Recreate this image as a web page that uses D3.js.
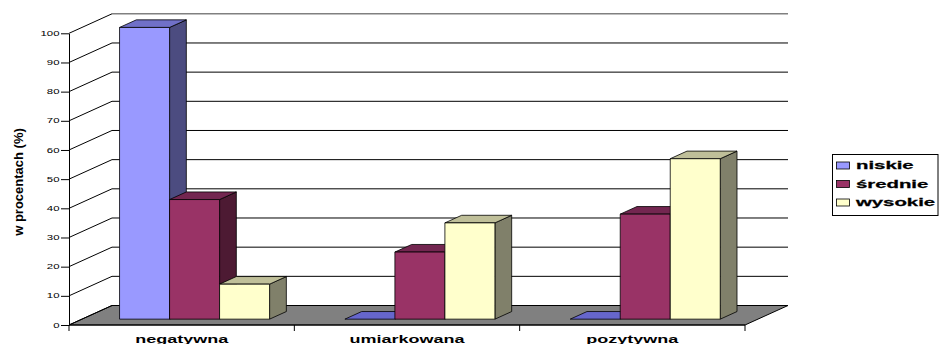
<!DOCTYPE html>
<html>
<head>
<meta charset="utf-8">
<script src="https://cdn.jsdelivr.net/npm/d3@7"></script>
<style>
  html, body { margin: 0; padding: 0; background: #fff; }
  svg { display: block; }
  text { font-family: "Liberation Sans", Arial, sans-serif; }
</style>
</head>
<body>
<svg id="chart" width="939" height="344"></svg>
<script>
// Attitude groups and share of each level (percent)
const categories = ["negatywna", "umiarkowana", "pozytywna"];
const seriesNames = ["niskie", "średnie", "wysokie"];
const niskie = [100, 0, 0];
const srednie = [41, 23, 36];
const wysokie = [12, 33, 55];
const yTicks = [0, 10, 20, 30, 40, 50, 60, 70, 80, 90, 100];
const yTitle = "w procentach (%)";

const seriesValues = [niskie, srednie, wysokie];
const palette = {
  front: ["#9999FF", "#993366", "#FFFFCC"],
  top:   ["#7070C8", "#732650", "#BFBF99"],
  side:  ["#4C4C80", "#4D1A33", "#80806A"]
};

const svg = d3.select("#chart");

// Front plane of the plot box and depth vector of the 3-D floor
const left = 69, right = 745, floorY = 325, topY = 33.3;
const depth = { dx: 43, dy: -19.5 };
const zFront = 0.3, zBack = 0.69;   // bar depth inside the floor

const x = d3.scaleBand().domain(categories).range([left, right]).padding(0);
const xs = d3.scaleBand().domain(seriesNames).range([0, x.bandwidth()])
  .paddingInner(0).paddingOuter(0.753);
const y = d3.scaleLinear().domain([0, 100]).range([floorY, topY]);

// project a point (px on the front plane, value, depth fraction)
const P = (px, v, z) => [px + z * depth.dx, y(v) + z * depth.dy];
const poly = pts => "M" + pts.map(p => p.join(",")).join("L") + "Z";

// Floor slab
svg.append("path")
  .attr("d", poly([P(left, 0, 0), P(right, 0, 0), P(right, 0, 1), P(left, 0, 1)]))
  .attr("fill", "#808080").attr("stroke", "#000").attr("stroke-width", 1);

// Back wall gridlines
const grid = svg.append("g");
yTicks.filter(t => t > 0).forEach(t => {
  const a = P(left, t, 1), b = P(right, t, 1);
  grid.append("line")
    .attr("x1", a[0]).attr("y1", a[1]).attr("x2", b[0]).attr("y2", b[1])
    .attr("stroke", t === 100 ? "#808080" : "#000")
    .attr("stroke-width", t === 100 ? 1.6 : 1);
});
// Side wall gridlines
yTicks.forEach(t => {
  const a = P(left, t, 0), b = P(left, t, 1);
  grid.append("line")
    .attr("x1", a[0]).attr("y1", a[1]).attr("x2", b[0]).attr("y2", b[1])
    .attr("stroke", "#000").attr("stroke-width", 1);
});

// Bars: side, top and front face of each box
const bars = svg.append("g").attr("stroke", "#000").attr("stroke-width", 0.8)
  .attr("stroke-linejoin", "round");
categories.forEach((cat, ci) => {
  seriesNames.forEach((s, si) => {
    const v = seriesValues[si][ci];
    const x0 = x(cat) + xs(s), x1 = x0 + xs.bandwidth();
    if (v > 0) {
      bars.append("path")
        .attr("d", poly([P(x1, 0, zFront), P(x1, 0, zBack), P(x1, v, zBack), P(x1, v, zFront)]))
        .attr("fill", palette.side[si]);
    }
    bars.append("path")
      .attr("d", poly([P(x0, v, zFront), P(x1, v, zFront), P(x1, v, zBack), P(x0, v, zBack)]))
      .attr("fill", v > 0 ? palette.top[si] : "#6666CC");
    if (v > 0) {
      bars.append("path")
        .attr("d", poly([P(x0, 0, zFront), P(x1, 0, zFront), P(x1, v, zFront), P(x0, v, zFront)]))
        .attr("fill", palette.front[si]);
    }
  });
});

// Value axis
const tickStretch = 1.75;
const yAxis = svg.append("g")
  .attr("transform", `translate(${left},0)`)
  .call(d3.axisLeft(y).tickValues(yTicks).tickSize(8).tickPadding(1).tickSizeOuter(0));
yAxis.select(".domain").attr("stroke", "#000");
yAxis.selectAll(".tick line").attr("stroke", "#000");
yAxis.selectAll(".tick text")
  .attr("font-size", 6.5).attr("fill", "#000")
  .attr("font-family", "'Liberation Sans', Arial, sans-serif")
  .attr("transform", `scale(${tickStretch},1)`)
  .attr("x", -9.5 / tickStretch);

// Category axis along the front edge of the floor
const xAxis = svg.append("g");
xAxis.append("line")
  .attr("x1", left).attr("x2", right).attr("y1", floorY).attr("y2", floorY)
  .attr("stroke", "#000");
[...categories.map(c => x(c)), right].forEach(px => {
  xAxis.append("line")
    .attr("x1", px).attr("x2", px).attr("y1", floorY).attr("y2", floorY + 6)
    .attr("stroke", "#000");
});
categories.forEach(c => {
  xAxis.append("text")
    .attr("transform", `translate(${x(c) + x.bandwidth() / 2},343) scale(1.8,1)`)
    .attr("text-anchor", "middle")
    .attr("font-size", 10).attr("font-weight", "bold")
    .text(c);
});

// Axis title
svg.append("text")
  .attr("transform", "translate(23,182) rotate(-90)")
  .attr("text-anchor", "middle")
  .attr("font-size", 13).attr("font-weight", "bold")
  .text(yTitle);

// Legend
const legend = svg.append("g");
legend.append("rect")
  .attr("x", 832.5).attr("y", 154.5).attr("width", 105.5).attr("height", 61)
  .attr("fill", "#fff").attr("stroke", "#000");
seriesNames.forEach((s, i) => {
  const cy = 165.5 + i * 18.5;
  legend.append("rect")
    .attr("x", 836.5).attr("y", cy - 3.5).attr("width", 13).attr("height", 7)
    .attr("fill", palette.front[i]).attr("stroke", "#000").attr("stroke-width", 0.8);
  legend.append("text")
    .attr("transform", `translate(856,${cy + 3.5}) scale(1.85,1)`)
    .attr("font-size", 11).attr("font-weight", "bold")
    .attr("stroke", "#000").attr("stroke-width", 0.25)
    .text(s);
});
</script>
</body>
</html>
